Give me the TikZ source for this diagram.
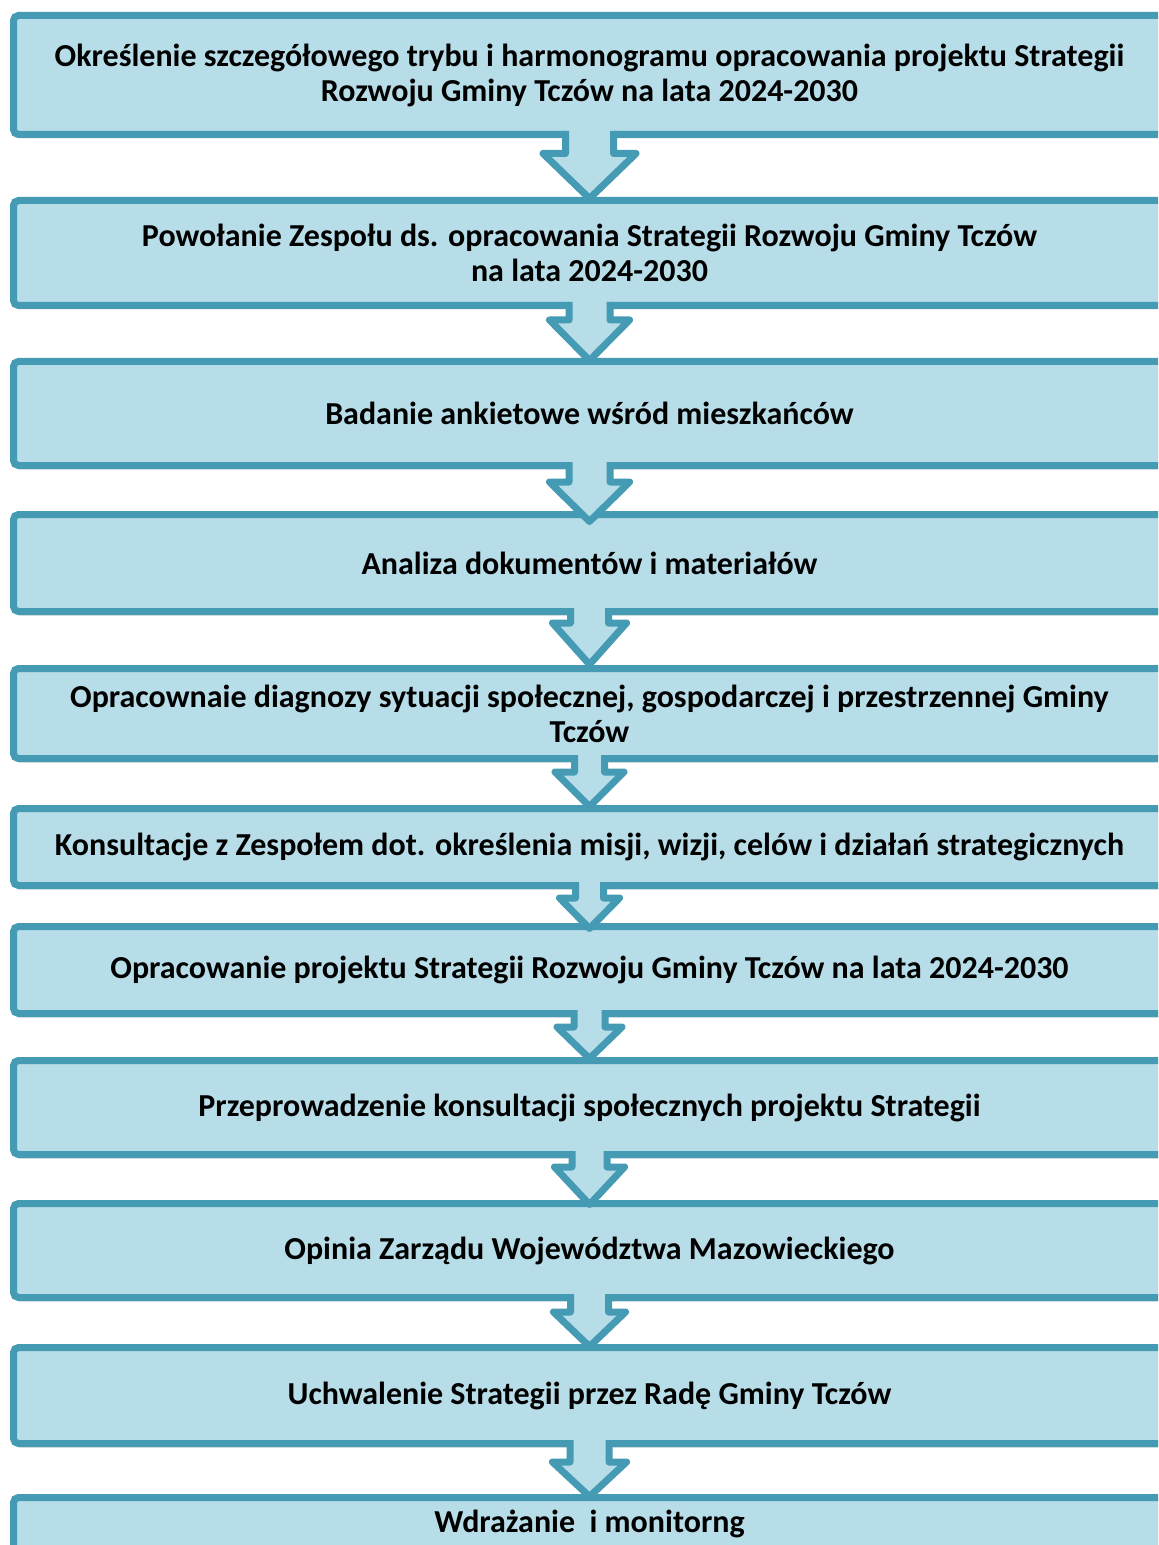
\documentclass[tikz,border=0pt]{standalone}
\usepackage{fontspec}
\setmainfont{Carlito}
\usetikzlibrary{calc,shadows}
\definecolor{boxfill}{RGB}{183,221,232}
\definecolor{boxline}{RGB}{69,155,180}
\tikzset{
  stepbox/.style={draw=boxline, fill=boxfill, line width=3.5pt, rounded corners=2.5pt,
    minimum width=576pt, outer sep=0pt, inner sep=0pt, align=center,
    font=\fontsize{16pt}{17.5pt}\selectfont\bfseries,
    drop shadow={opacity=0.3, shadow xshift=0.6pt, shadow yshift=-2pt}},
  steptext/.style={inner sep=0pt, align=center, font=\fontsize{16pt}{17.5pt}\selectfont\bfseries},
  arrowfill/.style={fill=boxfill},
  arrowshade/.style={fill=black, opacity=0.22},
  arrowline/.style={draw=boxline, line width=3.5pt, line join=round},
}
% #1 from node, #2 to node, #3 stem half width, #4 head half width,
% #5 shoulder offset below #1.south, #6 tip offset from #2.north
\newcommand\flowarrow[6]{%
  \coordinate (#1-st) at ($(#1.south)+(0,-3.5)$);
  \coordinate (#1-sf) at ($(#1.south)+(0,-4.5)$);
  \coordinate (#1-sh) at ($(#1.south)+(0,#5)$);
  \coordinate (#1-tp) at ($(#2.north)+(0,#6)$);
  \fill[arrowshade, shift={(1.5,5)}] ($(#1-sh)+(-#4-3,-2)$) -- ($(#1-tp)+(0,3)$) -- ($(#1-sh)+(#4+3,-2)$) -- cycle;
  \fill[arrowfill] ($(#1-sf)+(-#3,0)$) -- ($(#1-sh)+(-#3,0)$) -- ($(#1-sh)+(-#4,0)$) -- (#1-tp)
     -- ($(#1-sh)+(#4,0)$) -- ($(#1-sh)+(#3,0)$) -- ($(#1-sf)+(#3,0)$) -- cycle;
  \draw[arrowline] ($(#1-st)+(-#3,0)$) -- ($(#1-sh)+(-#3,0)$) -- ($(#1-sh)+(-#4,0)$) -- (#1-tp)
     -- ($(#1-sh)+(#4,0)$) -- ($(#1-sh)+(#3,0)$) -- ($(#1-st)+(#3,0)$);
}
\begin{document}
\begin{tikzpicture}[x=0.5pt,y=-0.5pt]
\useasboundingbox (0,0) rectangle (1158,1545);
\fill[white] (0,0) rectangle (1158,1545);
\clip (0,0) rectangle (1158,1545);
\node[stepbox, minimum height=59.5pt] (b1) at (589.5,75)
  {Określenie szczegółowego trybu i harmonogramu opracowania projektu Strategii\\Rozwoju Gminy Tczów na lata 2024-2030};
\node[stepbox, minimum height=52.5pt] (b2) at (589.5,253)
  {Powołanie Zespołu ds. opracowania Strategii Rozwoju Gminy Tczów\\na lata 2024-2030};
\node[stepbox, minimum height=52pt] (b3) at (589.5,413.5)
  {Badanie ankietowe wśród mieszkańców};
\node[stepbox, minimum height=48.5pt] (b4) at (589.5,563)
  {Analiza dokumentów i materiałów};
\node[stepbox, minimum height=45pt] (b5) at (589.5,713.5)
  {Opracownaie diagnozy sytuacji społecznej, gospodarczej i przestrzennej Gminy\\Tczów};
\node[stepbox, minimum height=38.5pt] (b6) at (589.5,847)
  {Konsultacje z Zespołem dot. określenia misji, wizji, celów i działań strategicznych};
\node[stepbox, minimum height=43.5pt] (b7) at (589.5,970)
  {Opracowanie projektu Strategii Rozwoju Gminy Tczów na lata 2024-2030};
\node[stepbox, minimum height=47pt] (b8) at (589.5,1107.5)
  {Przeprowadzenie konsultacji społecznych projektu Strategii};
\node[stepbox, minimum height=47pt] (b9) at (589.5,1250.5)
  {Opinia Zarządu Województwa Mazowieckiego};
\node[stepbox, minimum height=48pt] (b10) at (589.5,1395.5)
  {Uchwalenie Strategii przez Radę Gminy Tczów};
\node[stepbox, minimum height=50pt, anchor=north] (b11) at (589.5,1497.5) {};
\node[steptext] (t11) at (589.5,1523.5) {Wdrażanie~ i monitorng};
\flowarrow{b1}{b2}{24}{46.5}{19}{-2}
\flowarrow{b2}{b3}{20.5}{40}{14.5}{-1}
\flowarrow{b3}{b4}{20.5}{40}{16.5}{7}
\flowarrow{b4}{b5}{19}{37}{11.5}{-4}
\flowarrow{b5}{b6}{15}{34.5}{13.5}{-2}
\flowarrow{b6}{b7}{14}{30}{12.5}{2}
\flowarrow{b7}{b8}{15.5}{32.5}{13.5}{-2}
\flowarrow{b8}{b9}{17.5}{35}{12.5}{1}
\flowarrow{b9}{b10}{19}{36}{14.5}{-1}
\flowarrow{b10}{b11}{19.5}{37}{18.5}{-1}
\end{tikzpicture}
\end{document}
